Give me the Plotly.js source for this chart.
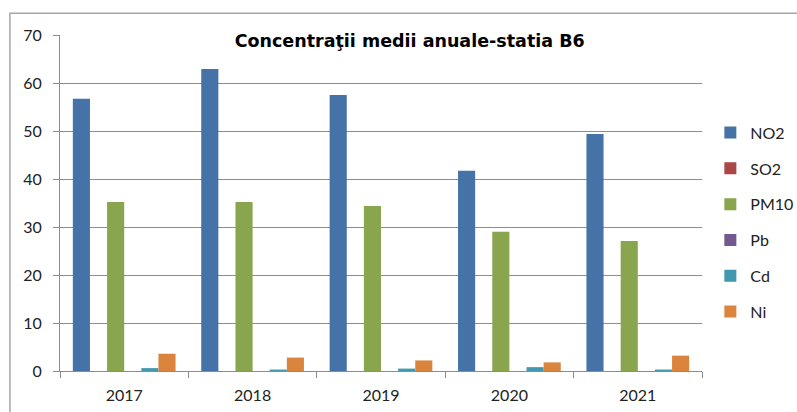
<!DOCTYPE html>
<html>
<head>
<meta charset="utf-8">
<script src="https://cdn.plot.ly/plotly-3.0.1.min.js"></script>
<style>html,body{margin:0;padding:0;background:#fff;}#chart{width:797px;height:412px;}</style>
</head>
<body>
<div id="chart"></div>
<script>
const years = ['2017', '2018', '2019', '2020', '2021'];
const seriesNames = ['NO2', 'SO2', 'PM10', 'Pb', 'Cd', 'Ni'];
const no2 = [56.7, 62.9, 57.5, 41.7, 49.4];
const so2 = [0, 0, 0, 0, 0];
const pm10 = [35.2, 35.2, 34.4, 29.0, 27.1];
const pb = [0, 0, 0, 0, 0];
const cd = [0.6, 0.3, 0.5, 0.8, 0.3];
const ni = [3.6, 2.8, 2.2, 1.8, 3.2];
const yTicks = [0, 10, 20, 30, 40, 50, 60, 70];

const values = [no2, so2, pm10, pb, cd, ni];
const colors = ['#4572A7', '#AA4643', '#89A54E', '#71588F', '#4198AF', '#DB843D'];

const traces = seriesNames.map((name, i) => ({
  type: 'bar',
  name: name,
  x: years,
  y: values[i],
  legendgroup: name,
  marker: {color: colors[i]},
  hoverinfo: 'x+y+name'
}));

const tickFont = {size: 16, color: '#222', family: 'Lato, Open Sans, sans-serif'};

const layout = {
  width: 797,
  height: 412,
  margin: {l: 60, r: 95, t: 35, b: 41, autoexpand: false},
  paper_bgcolor: '#ffffff',
  plot_bgcolor: '#ffffff',
  font: {family: 'Lato, sans-serif', color: '#222'},
  barmode: 'group',
  bargap: 0.2,
  bargroupgap: 0,
  title: {
    text: '<b>Concentraţii medii anuale-statia B6</b>',
    font: {size: 17.5, color: '#000', family: 'DejaVu Sans, Liberation Sans, sans-serif'},
    x: 0.514, xanchor: 'center', xref: 'container',
    y: 0.9, yanchor: 'middle', yref: 'container'
  },
  xaxis: {
    type: 'category',
    tickson: 'boundaries',
    ticks: 'outside',
    ticklen: 6,
    tickcolor: '#8c8c8c',
    showline: true,
    linecolor: '#8c8c8c',
    linewidth: 1,
    showgrid: false,
    tickfont: tickFont,
    ticklabelstandoff: 10
  },
  yaxis: {
    range: [0, 70],
    tickvals: yTicks,
    ticks: 'outside',
    ticklen: 6,
    tickcolor: '#8c8c8c',
    showline: true,
    linecolor: '#8c8c8c',
    linewidth: 1,
    showgrid: true,
    gridcolor: '#8c8c8c',
    gridwidth: 1,
    zeroline: false,
    tickfont: tickFont,
    ticklabelstandoff: 8
  },
  legend: {
    x: 1.013, xanchor: 'left', xref: 'paper',
    y: 0.76, yanchor: 'top',
    traceorder: 'grouped',
    tracegroupgap: 12,
    font: tickFont,
    itemwidth: 30,
    bgcolor: 'rgba(0,0,0,0)'
  },
  showlegend: true,
  shapes: [{
    type: 'rect', xref: 'paper', yref: 'paper',
    x0: -0.078, x1: 1.3, y0: -0.25, y1: 1.065,
    line: {color: '#a6a6a6', width: 1.5},
    fillcolor: 'rgba(0,0,0,0)',
    layer: 'below'
  }]
};

Plotly.newPlot('chart', traces, layout, {displayModeBar: false, staticPlot: true});
</script>
</body>
</html>
